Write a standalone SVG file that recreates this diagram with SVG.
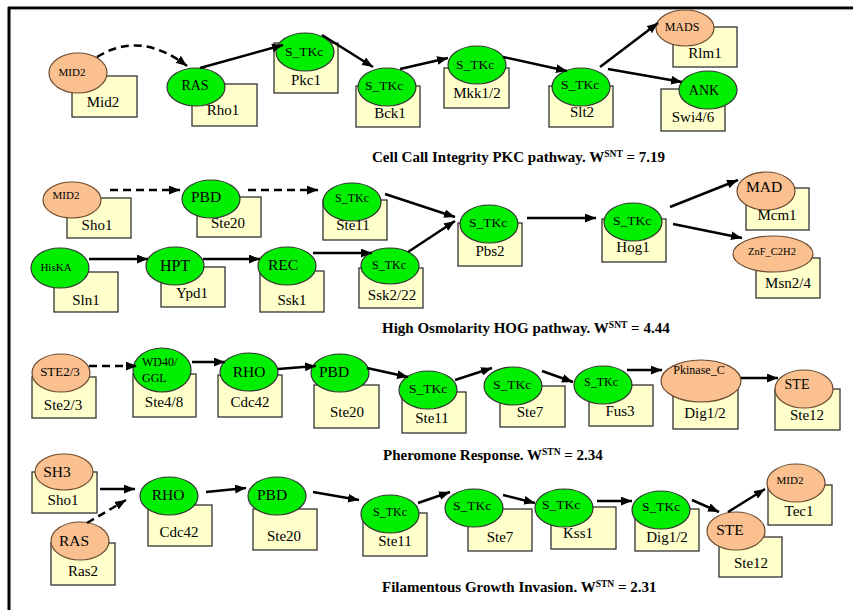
<svg xmlns="http://www.w3.org/2000/svg" width="853" height="610" viewBox="0 0 853 610" font-family="Liberation Serif, Times New Roman, DejaVu Serif, serif">
  <defs>
    <marker id="ah" viewBox="0 0 10 8" refX="10" refY="4" markerWidth="11" markerHeight="9" markerUnits="userSpaceOnUse" orient="auto">
      <path d="M0,0 L10,4 L0,8 Z" fill="#000"/>
    </marker>
  </defs>
  <style>
    .box { fill: #FFFFCC; stroke: #333; stroke-width: 1.3; }
    .g { fill: #00EE00; stroke: #333; stroke-width: 1.2; }
    .o { fill: #FAC090; stroke: #6b4a30; stroke-width: 1.2; }
    text { font-family: Liberation Serif, Times New Roman, DejaVu Serif, serif; fill: #000; }
    .lab { font-size: 15px; text-anchor: middle; }
    .el { text-anchor: middle; }
    .s11 { font-size: 11px; }
    .s12 { font-size: 12px; }
    .s13 { font-size: 13.5px; }
    .s14 { font-size: 14px; }
    .s15 { font-size: 15.5px; }
    .cap { font-size: 15px; font-weight: bold; }
    .sup { font-size: 9.5px; }
    .e { fill: none; stroke: #000; stroke-width: 2.5; marker-end: url(#ah); }
    .d { stroke-dasharray: 8 5; }
  </style>

  <!-- frame -->
  <rect x="0" y="0" width="853" height="610" fill="#fff"/>
  <line x1="8" y1="7.8" x2="853" y2="7.8" stroke="#000" stroke-width="2.6"/>
  <line x1="10" y1="9.6" x2="853" y2="9.6" stroke="#999" stroke-width="1"/>
  <line x1="9" y1="7" x2="9" y2="610" stroke="#000" stroke-width="3"/>

  <!-- Cell wall integrity PKC pathway -->
  <g id="pkc-mid2"><rect class="box" x="72" y="76" width="65" height="41"/><ellipse class="o" cx="78" cy="73" rx="29" ry="20"/><text class="el s11" x="72" y="76">MID2</text><text class="lab" x="103" y="107">Mid2</text></g>
  <g id="pkc-rho1"><rect class="box" x="192" y="84" width="65" height="42"/><ellipse class="g" cx="196" cy="87" rx="29" ry="19"/><text class="el s14" x="195" y="90">RAS</text><text class="lab" x="223" y="115">Rho1</text></g>
  <g id="pkc-pkc1"><rect class="box" x="274" y="43" width="64" height="50"/><ellipse class="g" cx="305" cy="52" rx="29" ry="19"/><text class="el s13" x="304" y="56">S_TKc</text><text class="lab" x="306" y="85">Pkc1</text></g>
  <g id="pkc-bck1"><rect class="box" x="356" y="86" width="64" height="41"/><ellipse class="g" cx="387" cy="87" rx="29" ry="19"/><text class="el s13" x="384" y="90">S_TKc</text><text class="lab" x="390" y="118">Bck1</text></g>
  <g id="pkc-mkk12"><rect class="box" x="444" y="68" width="65" height="40"/><ellipse class="g" cx="477" cy="65" rx="29" ry="19"/><text class="el s13" x="475" y="69">S_TKc</text><text class="lab" x="477" y="98">Mkk1/2</text></g>
  <g id="pkc-slt2"><rect class="box" x="549" y="86" width="64" height="41"/><ellipse class="g" cx="581" cy="87" rx="29" ry="19"/><text class="el s13" x="580" y="89">S_TKc</text><text class="lab" x="582" y="117">Slt2</text></g>
  <g id="pkc-rlm1"><rect class="box" x="673" y="27" width="64" height="40"/><ellipse class="o" cx="685" cy="28" rx="29" ry="18"/><text class="el s12" x="682" y="31">MADS</text><text class="lab" x="705" y="58">Rlm1</text></g>
  <g id="pkc-swi46"><rect class="box" x="661" y="89" width="64" height="42"/><ellipse class="g" cx="708" cy="90" rx="29" ry="19"/><text class="el s14" x="704" y="95">ANK</text><text class="lab" x="693" y="122">Swi4/6</text></g>
  <text class="cap" x="372" y="162">Cell Call Integrity PKC pathway. W<tspan class="sup" dy="-5">SNT</tspan><tspan dy="5"> = 7.19</tspan></text>

  <!-- High osmolarity HOG pathway -->
  <g id="hog-sho1"><rect class="box" x="67" y="198" width="64" height="40"/><ellipse class="o" cx="72" cy="200" rx="29" ry="18"/><text class="el s11" x="66" y="199">MID2</text><text class="lab" x="97" y="230">Sho1</text></g>
  <g id="hog-ste20"><rect class="box" x="197" y="197" width="64" height="40"/><ellipse class="g" cx="211" cy="199" rx="29" ry="19"/><text class="el s15" x="206" y="202">PBD</text><text class="lab" x="228" y="228">Ste20</text></g>
  <g id="hog-ste11"><rect class="box" x="323" y="200" width="64" height="40"/><ellipse class="g" cx="352" cy="202" rx="29" ry="19"/><text class="el s12" x="352" y="202">S_TKc</text><text class="lab" x="353" y="230">Ste11</text></g>
  <g id="hog-sln1"><rect class="box" x="54" y="272" width="64" height="40"/><ellipse class="g" cx="60" cy="268" rx="29" ry="20"/><text class="el s11" x="56" y="271">HisKA</text><text class="lab" x="86" y="305">Sln1</text></g>
  <g id="hog-ypd1"><rect class="box" x="161" y="267" width="64" height="40"/><ellipse class="g" cx="175" cy="266" rx="29" ry="19"/><text class="el" style="font-size:16px" x="175" y="271">HPT</text><text class="lab" x="192" y="298">Ypd1</text></g>
  <g id="hog-ssk1"><rect class="box" x="260" y="271" width="64" height="41"/><ellipse class="g" cx="287" cy="266" rx="29" ry="19"/><text class="el s15" x="283" y="270">REC</text><text class="lab" x="292" y="305">Ssk1</text></g>
  <g id="hog-ssk222"><rect class="box" x="359" y="268" width="64" height="40"/><ellipse class="g" cx="390" cy="266" rx="29" ry="18"/><text class="el s12" x="389" y="269">S_TKc</text><text class="lab" x="392" y="300">Ssk2/22</text></g>
  <g id="hog-pbs2"><rect class="box" x="458" y="223" width="64" height="43"/><ellipse class="g" cx="489" cy="224" rx="29" ry="19"/><text class="el s13" x="488" y="227">S_TKc</text><text class="lab" x="490" y="256">Pbs2</text></g>
  <g id="hog-hog1"><rect class="box" x="602" y="219" width="64" height="43"/><ellipse class="g" cx="633" cy="222" rx="29" ry="19"/><text class="el s13" x="632" y="225">S_TKc</text><text class="lab" x="633" y="252">Hog1</text></g>
  <g id="hog-mcm1"><rect class="box" x="746" y="188" width="63" height="42"/><ellipse class="o" cx="766" cy="191" rx="29" ry="19"/><text class="el s15" x="764" y="192">MAD</text><text class="lab" x="777" y="220">Mcm1</text></g>
  <g id="hog-msn24"><rect class="box" x="756" y="258" width="64" height="40"/><ellipse class="o" cx="773" cy="254" rx="40" ry="18"/><text class="el" style="font-size:10.5px" x="772" y="255">ZnF_C2H2</text><text class="lab" x="788" y="288">Msn2/4</text></g>
  <text class="cap" x="382" y="333">High Osmolarity HOG pathway. W<tspan class="sup" dy="-5">SNT</tspan><tspan dy="5"> = 4.44</tspan></text>

  <!-- Pheromone response -->
  <g id="ph-ste23"><rect class="box" x="32" y="377" width="64" height="41"/><ellipse class="o" cx="61" cy="373" rx="29" ry="19"/><text class="el" style="font-size:13px" x="60" y="376">STE2/3</text><text class="lab" x="63" y="410">Ste2/3</text></g>
  <g id="ph-ste48"><rect class="box" x="133" y="374" width="63" height="43"/><ellipse class="g" cx="162" cy="370" rx="29" ry="22"/><text class="s12" x="142" y="366">WD40/</text><text class="s12" x="142" y="382">GGL</text><text class="lab" x="164" y="407">Ste4/8</text></g>
  <g id="ph-cdc42"><rect class="box" x="218" y="375" width="64" height="42"/><ellipse class="g" cx="249" cy="372" rx="29" ry="19"/><text class="el s15" x="249" y="377">RHO</text><text class="lab" x="250" y="407">Cdc42</text></g>
  <g id="ph-ste20"><rect class="box" x="314" y="385" width="65" height="43"/><ellipse class="g" cx="340" cy="373" rx="29" ry="19"/><text class="el s15" x="334" y="377">PBD</text><text class="lab" x="347" y="417">Ste20</text></g>
  <g id="ph-ste11"><rect class="box" x="402" y="392" width="64" height="41"/><ellipse class="g" cx="428" cy="390" rx="29" ry="19"/><text class="el s13" x="428" y="393">S_TKc</text><text class="lab" x="432" y="423">Ste11</text></g>
  <g id="ph-ste7"><rect class="box" x="500" y="386" width="65" height="41"/><ellipse class="g" cx="513" cy="386" rx="29" ry="19"/><text class="el s13" x="512" y="389">S_TKc</text><text class="lab" x="530" y="417">Ste7</text></g>
  <g id="ph-fus3"><rect class="box" x="589" y="385" width="64" height="41"/><ellipse class="g" cx="603" cy="385" rx="29" ry="19"/><text class="el s12" x="601" y="386">S_TKc</text><text class="lab" x="620" y="416">Fus3</text></g>
  <g id="ph-dig12"><rect class="box" x="673" y="388" width="65" height="41"/><ellipse class="o" cx="701" cy="381" rx="40" ry="21"/><text class="el s12" x="699" y="374">Pkinase_C</text><text class="lab" x="705" y="418">Dig1/2</text></g>
  <g id="ph-ste12"><rect class="box" x="775" y="389" width="65" height="41"/><ellipse class="o" cx="804" cy="389" rx="29" ry="19"/><text class="el s14" x="797" y="389">STE</text><text class="lab" x="807" y="420">Ste12</text></g>
  <text class="cap" x="383" y="460">Pheromone Response. W<tspan class="sup" dy="-5">STN</tspan><tspan dy="5"> = 2.34</tspan></text>

  <!-- Filamentous growth invasion -->
  <g id="fg-sho1"><rect class="box" x="32" y="472" width="65" height="41"/><ellipse class="o" cx="64" cy="472" rx="29" ry="18"/><text class="el s15" x="57" y="477">SH3</text><text class="lab" x="63" y="505">Sho1</text></g>
  <g id="fg-ras2"><rect class="box" x="51" y="543" width="64" height="42"/><ellipse class="o" cx="80" cy="541" rx="29" ry="19"/><text class="el s15" x="74" y="546">RAS</text><text class="lab" x="83" y="576">Ras2</text></g>
  <g id="fg-cdc42"><rect class="box" x="148" y="505" width="64" height="41"/><ellipse class="g" cx="169" cy="496" rx="29" ry="19"/><text class="el s15" x="168" y="500">RHO</text><text class="lab" x="179" y="537">Cdc42</text></g>
  <g id="fg-ste20"><rect class="box" x="253" y="509" width="64" height="41"/><ellipse class="g" cx="277" cy="496" rx="29" ry="19"/><text class="el s15" x="272" y="500">PBD</text><text class="lab" x="284" y="541">Ste20</text></g>
  <g id="fg-ste11"><rect class="box" x="363" y="513" width="64" height="43"/><ellipse class="g" cx="390" cy="514" rx="29" ry="19"/><text class="el s12" x="390" y="516">S_TKc</text><text class="lab" x="395" y="546">Ste11</text></g>
  <g id="fg-ste7"><rect class="box" x="468" y="509" width="64" height="42"/><ellipse class="g" cx="474" cy="508" rx="29" ry="19"/><text class="el s13" x="472" y="510">S_TKc</text><text class="lab" x="500" y="542">Ste7</text></g>
  <g id="fg-kss1"><rect class="box" x="551" y="507" width="65" height="42"/><ellipse class="g" cx="564" cy="508" rx="29" ry="19"/><text class="el s13" x="561" y="509">S_TKc</text><text class="lab" x="578" y="538">Kss1</text></g>
  <g id="fg-dig12"><rect class="box" x="635" y="509" width="64" height="42"/><ellipse class="g" cx="661" cy="510" rx="29" ry="19"/><text class="el s13" x="661" y="511">S_TKc</text><text class="lab" x="667" y="542">Dig1/2</text></g>
  <g id="fg-ste12"><rect class="box" x="719" y="537" width="63" height="40"/><ellipse class="o" cx="736" cy="531" rx="29" ry="19"/><text class="el s15" x="730" y="535">STE</text><text class="lab" x="751" y="568">Ste12</text></g>
  <g id="fg-tec1"><rect class="box" x="768" y="485" width="64" height="40"/><ellipse class="o" cx="796" cy="483" rx="29" ry="19"/><text class="el s11" x="790" y="484">MID2</text><text class="lab" x="799" y="516">Tec1</text></g>
  <text class="cap" x="382" y="592">Filamentous Growth Invasion. W<tspan class="sup" dy="-5">STN</tspan><tspan dy="5"> = 2.31</tspan></text>

  <!-- connectors -->
  <g id="edges">
    <path class="e d" d="M97,57 Q140,30 187,66"/>
    <path class="e" d="M200,68 L283,45"/>
    <path class="e" d="M322,35 L373,67"/>
    <path class="e" d="M400,69 L448,58"/>
    <path class="e" d="M503,57 L567,71"/>
    <path class="e" d="M600,67 L658,23"/>
    <path class="e" d="M608,69 L682,82"/>

    <path class="e d" d="M110,190 L180,190"/>
    <path class="e d" d="M248,190 L318,190"/>
    <path class="e" d="M89,259 L148,259"/>
    <path class="e" d="M203,259 L260,259"/>
    <path class="e" d="M313,253 L372,253"/>
    <path class="e" d="M385,194 L455,217"/>
    <path class="e" d="M408,252 L455,221"/>
    <path class="e" d="M527,218 L596,218"/>
    <path class="e" d="M670,207 L738,180"/>
    <path class="e" d="M673,224 L742,238"/>

    <path class="e d" d="M89,366 L137,366"/>
    <path class="e" d="M192,362 L225,362"/>
    <path class="e" d="M278,369 L316,366"/>
    <path class="e" d="M367,368 L408,377"/>
    <path class="e" d="M455,380 L492,368"/>
    <path class="e" d="M542,371 L573,382"/>
    <path class="e" d="M627,370 L662,370"/>
    <path class="e" d="M741,378 L778,378"/>

    <path class="e" d="M100,489 L135,489"/>
    <path class="e d" d="M87,523 L126,500"/>
    <path class="e" d="M206,492 L246,488"/>
    <path class="e" d="M313,492 L359,500"/>
    <path class="e" d="M418,503 L450,492"/>
    <path class="e" d="M503,495 L535,503"/>
    <path class="e" d="M597,501 L632,501"/>
    <path class="e" d="M692,500 L719,512"/>
    <path class="e" d="M728,512 L765,489"/>
  </g>
</svg>
